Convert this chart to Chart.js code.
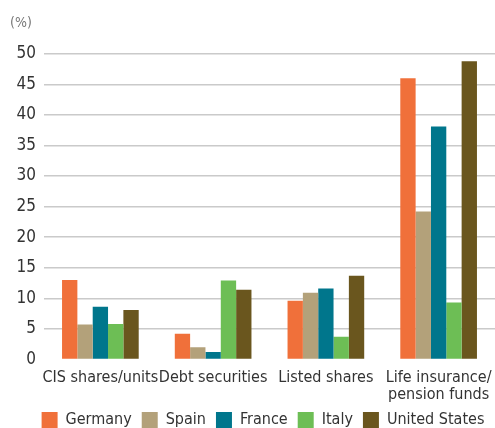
<!DOCTYPE html>
<html lang="en">
<head>
  <meta charset="UTF-8" />
  <title>Household financial assets</title>
  <style>
    body { margin: 0; background: #fff; }
    #wrap { width: 495px; height: 428px; }
  </style>
</head>
<body>
  <div id="wrap"><canvas id="chart"></canvas></div>

  <script src="https://cdn.jsdelivr.net/npm/chart.js@4.4.0/dist/chart.umd.min.js"></script>
  <script>
    // categories and series (%)
    var categories = ["CIS shares/units", "Debt securities", "Listed shares", ["Life insurance/", "pension funds"]];
    var countries = ["Germany", "Spain", "France", "Italy", "United States"];
    var colours = ["#f0703a", "#b3a17a", "#00768c", "#6dbe55", "#6a561e"];

    var germany = [13.0, 4.2, 9.6, 46.0];
    var spain = [5.7, 2.0, 10.9, 24.2];
    var france = [8.6, 1.2, 11.6, 38.1];
    var italy = [5.8, 12.9, 3.7, 9.3];
    var usa = [8.1, 11.4, 13.7, 48.8];

    var yTicks = [0, 5, 10, 15, 20, 25, 30, 35, 40, 45, 50];

    var series = [germany, spain, france, italy, usa];
    var font = "'DejaVu Sans Condensed', 'Liberation Sans', sans-serif";

    // nudge the legend row a little to the right of the canvas centre
    var legendShift = {
      id: "legendShift",
      afterLayout: function (chart) {
        chart.legend.left += 9;
        chart.legend.right += 9;
      }
    };

    var ctx = document.getElementById("chart").getContext("2d");
    var myChart = new Chart(ctx, {
      type: "bar",
      data: {
        labels: categories,
        datasets: series.map(function (vals, i) {
          return {
            label: countries[i],
            data: vals,
            backgroundColor: colours[i],
            borderWidth: 0,
            barPercentage: 1,
            categoryPercentage: 0.68
          };
        })
      },
      plugins: [legendShift],
      options: {
        responsive: true,
        maintainAspectRatio: false,
        animation: false,
        layout: { padding: { left: 10, right: -3, top: 0, bottom: -10 } },
        plugins: {
          tooltip: { enabled: false },
          title: {
            display: true,
            text: "(%)",
            align: "start",
            color: "#777",
            font: { family: font, size: 14, weight: "normal" },
            padding: { top: 15, bottom: 22 }
          },
          legend: {
            position: "bottom",
            labels: {
              boxWidth: 16,
              boxHeight: 16,
              padding: 10,
              color: "#333",
              font: { family: font, size: 16 }
            }
          }
        },
        scales: {
          x: {
            grid: { display: false, drawTicks: false },
            border: { display: false },
            afterFit: function (scale) {
              scale.paddingLeft = 0;
              scale.paddingRight = 0;
              scale.height -= 11;
            },
            ticks: {
              color: "#333",
              padding: 10,
              maxRotation: 0,
              autoSkip: false,
              font: { family: font, size: 16, lineHeight: 1.05 }
            }
          },
          y: {
            min: 0,
            max: 50,
            afterBuildTicks: function (scale) {
              scale.ticks = yTicks.map(function (v) { return { value: v }; });
            },
            afterFit: function (scale) { scale.width = 34; },
            border: { display: false },
            grid: {
              drawTicks: false,
              lineWidth: 1.5,
              color: function (c) { return c.tick && c.tick.value === 0 ? "rgba(0,0,0,0)" : "#cacaca"; }
            },
            ticks: {
              color: "#333",
              padding: 8,
              font: { family: font, size: 17 }
            }
          }
        }
      }
    });
  </script>
</body>
</html>
